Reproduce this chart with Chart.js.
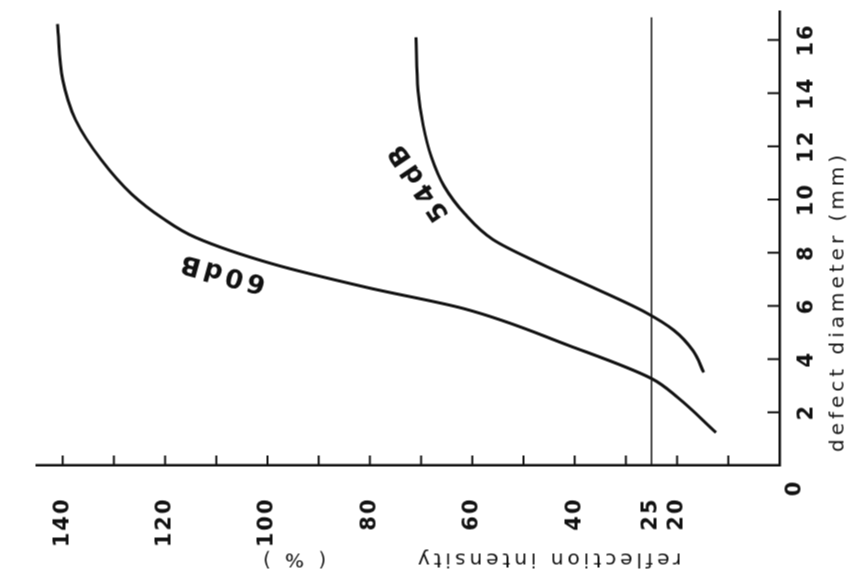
<!DOCTYPE html>
<html>
<head>
<meta charset="utf-8">
<script src="https://cdn.jsdelivr.net/npm/chart.js@4.4.1/dist/chart.umd.min.js"></script>
<style>
  html, body { margin: 0; padding: 0; background: #fff; }
  #stage { position: relative; width: 854px; height: 583px; overflow: hidden; background: #fff; }
  /* the figure is drawn upright, then turned a quarter turn counter-clockwise like the scan */
  #wrap { position: absolute; width: 583px; height: 854px; left: 135.5px; top: -135.5px; transform: rotate(-90deg); }
</style>
</head>
<body>
<div id="stage"><div id="wrap"><canvas id="chart" width="583" height="854"></canvas></div></div>
<script>
// defect diameter (mm) vs reflection intensity (%)
const diameter60 = [1.24, 2.56, 3.27, 4.5, 5.9, 6.69, 7.59, 8.57, 9.3, 10.2, 11.5, 13.0, 14.5, 16.6];
const intensity60 = [12.4, 19.9, 25, 41, 61.7, 80.5, 99.2, 114, 120.5, 126.5, 132.5, 137.5, 140, 141];

const diameter54 = [3.5, 4.32, 5.08, 5.75, 6.7, 7.59, 8.5, 9.47, 10.5, 11.6, 12.8, 14.1, 16.1];
const intensity54 = [14.8, 16.9, 20.6, 26.1, 36.5, 46.7, 56, 61.5, 65.5, 68, 69.6, 70.6, 71];

const refLevel = 25;
const refTop = 16.85;

const diameterTicks = [0, 2, 4, 6, 8, 10, 12, 14, 16];
const intensityTicks = [0, 10, 20, 25, 30, 40, 50, 60, 70, 80, 90, 100, 110, 120, 130, 140];
const intensityLabels = [20, 25, 40, 60, 80, 100, 120, 140];

const ink = '#111';
const face = 'DejaVu Sans';

const toPoints = (xs, ys) => xs.map((x, i) => ({ x: x, y: ys[i] }));

const decorations = {
  id: 'decorations',
  beforeDraw(chart) {
    chart.ctx.letterSpacing = '2px';
  },
  afterDraw(chart) {
    const { ctx, scales: { x, y } } = chart;
    ctx.save();
    ctx.strokeStyle = ink;
    ctx.lineWidth = 2;
    // inward tick marks
    diameterTicks.forEach(v => {
      if (v === 0) return;
      const px = x.getPixelForValue(v);
      ctx.beginPath();
      ctx.moveTo(px, y.bottom);
      ctx.lineTo(px, y.bottom - 12);
      ctx.stroke();
    });
    intensityTicks.forEach(v => {
      if (v === 0 || v === refLevel) return;
      const py = y.getPixelForValue(v);
      ctx.beginPath();
      ctx.moveTo(x.left, py);
      ctx.lineTo(x.left + 10, py);
      ctx.stroke();
    });

    ctx.fillStyle = ink;
    ctx.textAlign = 'center';
    ctx.textBaseline = 'middle';
    ctx.letterSpacing = '3px';

    ctx.font = 'bold 21px "' + face + '"';
    ctx.fillText('0', 96, 795);

    ctx.font = '20px "' + face + '"';
    ctx.letterSpacing = '4px';
    ctx.fillText('defect diameter (mm)', 282, 838);

    ctx.save();
    ctx.translate(25, 547);
    ctx.rotate(-Math.PI / 2);
    ctx.fillText('reflection intensity', 0, 0);
    ctx.restore();
    ctx.save();
    ctx.translate(25, 292);
    ctx.rotate(-Math.PI / 2);
    ctx.fillText('( % )', 0, 0);
    ctx.restore();

    // curve names
    ctx.font = 'bold 26px "' + face + '"';
    ctx.letterSpacing = '4px';
    ctx.save();
    ctx.translate(x.getPixelForValue(7.26), y.getPixelForValue(109));
    ctx.rotate(-75 * Math.PI / 180);
    ctx.fillText('60dB', 0, 0);
    ctx.restore();
    ctx.save();
    ctx.translate(x.getPixelForValue(10.7), y.getPixelForValue(70.5));
    ctx.rotate(-34 * Math.PI / 180);
    ctx.fillText('54dB', 0, 0);
    ctx.restore();

    ctx.restore();
    ctx.letterSpacing = '0px';
  }
};

new Chart(document.getElementById('chart'), {
  type: 'line',
  data: {
    datasets: [
      {
        label: '60dB',
        data: toPoints(diameter60, intensity60),
        borderColor: ink,
        borderWidth: 3,
        pointRadius: 0,
        cubicInterpolationMode: 'monotone',
        fill: false,
      },
      {
        label: '54dB',
        data: toPoints(diameter54, intensity54),
        borderColor: ink,
        borderWidth: 3,
        pointRadius: 0,
        cubicInterpolationMode: 'monotone',
        fill: false,
      },
      {
        label: '25%',
        data: [{ x: 0, y: refLevel }, { x: refTop, y: refLevel }],
        borderColor: ink,
        borderWidth: 1.6,
        pointRadius: 0,
        fill: false,
      },
    ],
  },
  options: {
    responsive: false,
    animation: false,
    devicePixelRatio: 1,
    layout: { padding: { top: 6, right: 11, left: 0, bottom: 0 } },
    plugins: {
      legend: { display: false },
      tooltip: { enabled: false },
    },
    scales: {
      x: {
        type: 'linear',
        min: 0,
        max: 17.07,
        afterBuildTicks: (scale) => { scale.ticks = diameterTicks.map(v => ({ value: v })); },
        afterFit: (scale) => { scale.height = 75; },
        grid: { display: false },
        border: { display: true, color: ink, width: 2.5 },
        ticks: {
          padding: 7,
          color: ink,
          autoSkip: false,
          maxRotation: 0,
          font: { family: face, size: 21, weight: 'bold' },
          callback: (v) => (v === 0 ? '' : String(v)),
        },
      },
      y: {
        type: 'linear',
        min: 0,
        max: 145,
        afterBuildTicks: (scale) => { scale.ticks = intensityTicks.map(v => ({ value: v })); },
        afterFit: (scale) => { scale.width = 118; },
        grid: { display: false },
        border: { display: true, color: ink, width: 2.5 },
        ticks: {
          padding: 24,
          color: ink,
          autoSkip: false,
          font: { family: face, size: 21, weight: 'bold' },
          callback: (v) => (intensityLabels.includes(v) ? String(v) : ''),
        },
      },
    },
  },
  plugins: [decorations],
});
</script>
</body>
</html>
